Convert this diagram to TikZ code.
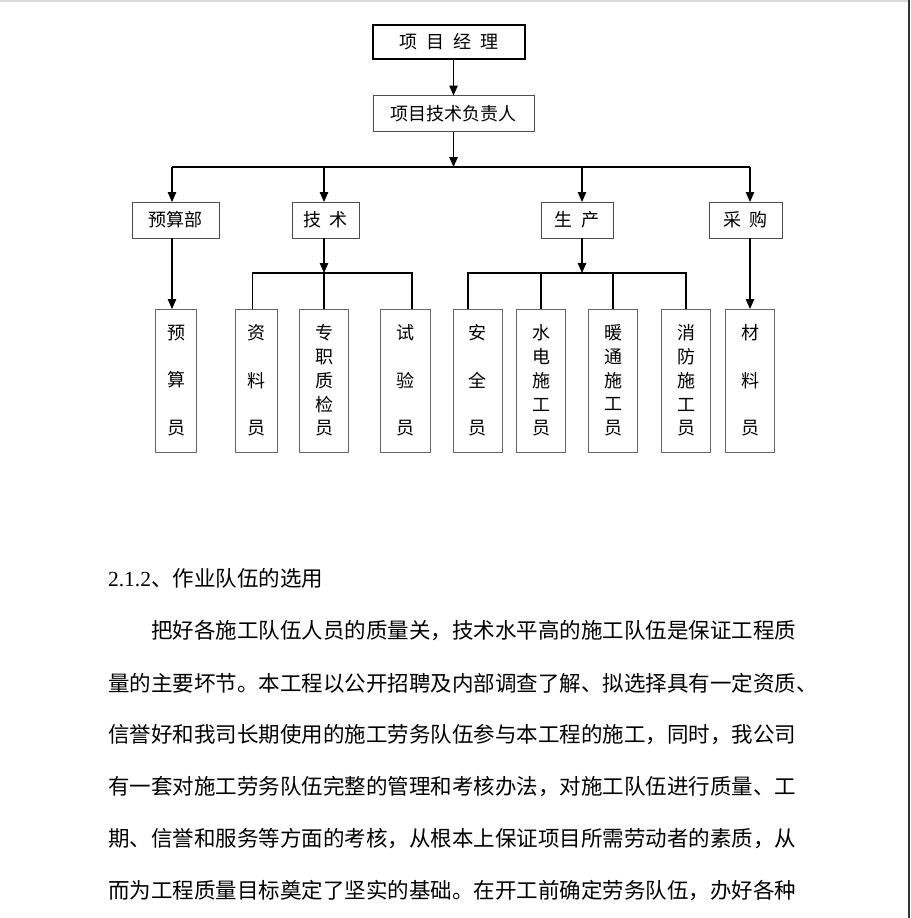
\documentclass[tikz,border=0pt]{standalone}
\usepackage{fontspec}
\setmainfont{Liberation Serif}
\newfontfamily\cjk{Noto Sans CJK SC}
\newfontfamily\cjkbox{Noto Sans CJK SC}[WordSpace=2.2]
\usetikzlibrary{arrows.meta,positioning}

\begin{document}
\begin{tikzpicture}[
  x=1pt, y=-1pt,
  every node/.style={inner sep=0pt, outer sep=0pt},
  box/.style={rectangle, draw=black!70, line width=0.9pt, font=\cjkbox\fontsize{18}{20}\selectfont, align=center},
  head/.style={box, draw=black, line width=1.7pt},
  dept/.style={box, minimum height=36pt},
  staff/.style={box, draw=black!60, minimum height=143pt, font=\cjkbox\fontsize{18}{23.75}\selectfont},
  arrow/.style={-{Triangle[length=10pt,width=8.5pt]}, line width=1.2pt},
  link/.style={line width=1.2pt},
  para/.style={anchor=west, font=\cjk\fontsize{21.5}{21.5}\selectfont}
]

% Page
\fill[white] (0,0) rectangle (910,918);
\useasboundingbox (0,0) rectangle (910,918);
\draw[gray!30, line width=1.5pt] (0,0.75) -- (910,0.75);
\draw[black!80, line width=2pt] (909,0) -- (909,918);

% Top: manager and technical lead
\node[head, minimum width=152pt, minimum height=34pt] (pm) at (449,42) {项 目 经 理};
\node[box, minimum width=161pt, minimum height=36pt] (lead) at (453.5,113.5) {项目技术负责人};

% Departments
\node[dept, minimum width=87pt] (budget) at (175.5,220) {预算部};
\node[dept, minimum width=67pt] (tech) at (325.5,220) {技 术};
\node[dept, minimum width=72pt] (prod) at (577,220) {生 产};
\node[dept, minimum width=73pt] (buy) at (745.5,220) {采 购};

% Staff
\node[staff, minimum width=41pt] (s1) at (176,380.5) {预\\[23.75pt]算\\[23.75pt]员};
\node[staff, minimum width=42pt] (s2) at (256,380.5) {资\\[23.75pt]料\\[23.75pt]员};
\node[staff, minimum width=49pt] (s3) at (324,380.5) {专\\职\\质\\检\\员};
\node[staff, minimum width=50pt] (s4) at (405,380.5) {试\\[23.75pt]验\\[23.75pt]员};
\node[staff, minimum width=49pt] (s5) at (477.5,380.5) {安\\[23.75pt]全\\[23.75pt]员};
\node[staff, minimum width=49pt] (s6) at (541,380.5) {水\\电\\施\\工\\员};
\node[staff, minimum width=49pt] (s7) at (613,380.5) {暖\\通\\施\\工\\员};
\node[staff, minimum width=49pt] (s8) at (686,380.5) {消\\防\\施\\工\\员};
\node[staff, minimum width=49pt] (s9) at (750,380.5) {材\\[23.75pt]料\\[23.75pt]员};

% Bus lines
\coordinate (bus) at (453.5,167);
\coordinate (busL) at (172,167);
\coordinate (busR) at (750,167);
\coordinate (techbus) at (324,273);
\coordinate (prodbus) at (582,273);

% Arrows
\draw[arrow] (pm.south -| lead.north) -- (lead.north);
\draw[arrow] (lead.south) -- (bus);
\draw[link] (busL) -- (busR);
\draw[arrow] (busL) -- (busL |- budget.north);
\draw[arrow] (techbus |- bus) -- (techbus |- tech.north);
\draw[arrow] (prodbus |- bus) -- (prodbus |- prod.north);
\draw[arrow] (busR) -- (busR |- buy.north);

\draw[arrow] (busL |- budget.south) -- (busL |- s1.north);
\draw[arrow] (busR |- buy.south) -- (s9.north);

% Technical branch
\draw[arrow] (techbus |- tech.south) -- (techbus);
\draw[link] ([xshift=-3.7pt]s2.north) |- (techbus) -| ([xshift=7pt]s4.north);
\draw[link] (techbus) -- (s3.north);

% Production branch
\draw[arrow] (prodbus |- prod.south) -- (prodbus);
\draw[link] ([xshift=-9.5pt]s5.north) |- (prodbus) -| (s8.north);
\draw[link] (s6.north |- prodbus) -- (s6.north);
\draw[link] (s7.north |- prodbus) -- (s7.north);

% Text below the chart
\node[para, font=\fontsize{21.5}{21.5}\selectfont] (heading) at (108,578) {2.1.2{\cjk 、作业队伍的选用}};
\node[para] (line1) at (151,631) {把好各施工队伍人员的质量关，技术水平高的施工队伍是保证工程质};
\node[para] (line2) at (108,683) {量的主要坏节。本工程以公开招聘及内部调查了解、拟选择具有一定资质、};
\node[para] (line3) at (108,735) {信誉好和我司长期使用的施工劳务队伍参与本工程的施工，同时，我公司};
\node[para] (line4) at (108,787) {有一套对施工劳务队伍完整的管理和考核办法，对施工队伍进行质量、工};
\node[para] (line5) at (108,839) {期、信誉和服务等方面的考核，从根本上保证项目所需劳动者的素质，从};
\node[para] (line6) at (108,891) {而为工程质量目标奠定了坚实的基础。在开工前确定劳务队伍，办好各种};

\end{tikzpicture}
\end{document}
